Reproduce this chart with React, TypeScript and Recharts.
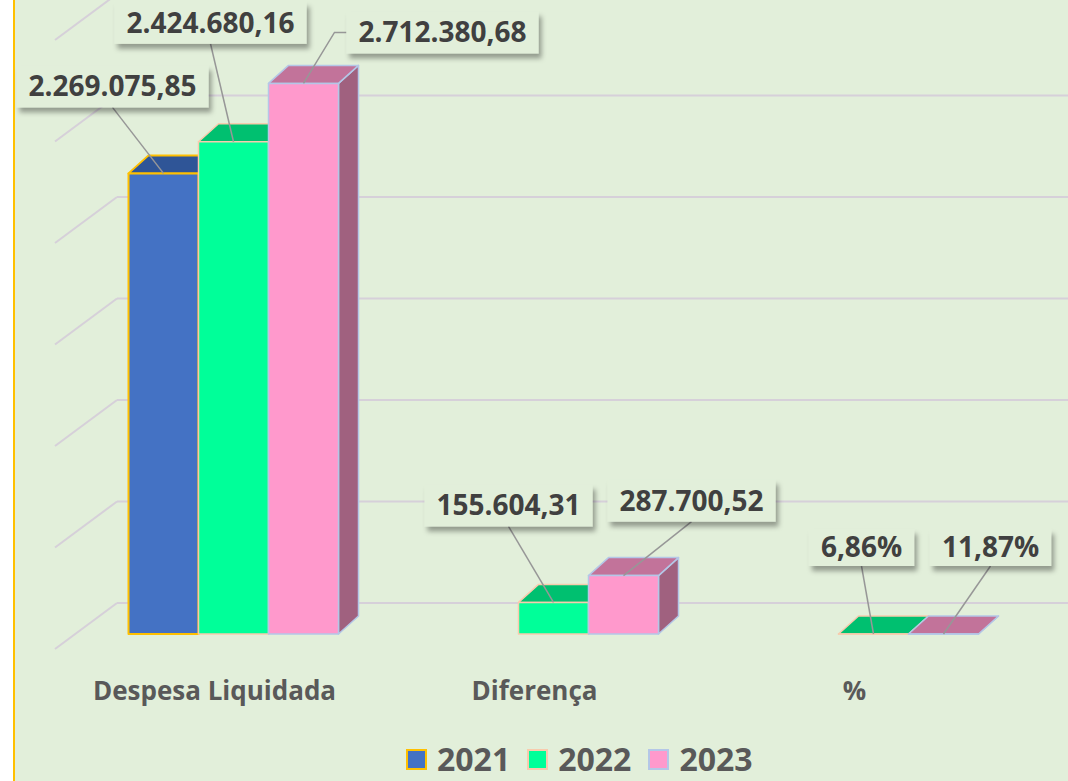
import React from 'react';
import { BarChart, Bar, XAxis, YAxis, CartesianGrid, Legend, LabelList } from 'recharts';

const categories = ['Despesa Liquidada', 'Diferença', '%'];
const years = ['2021', '2022', '2023'];
const values2021 = [2269075.85, null, null];
const values2022 = [2424680.16, 155604.31, 6.86];
const values2023 = [2712380.68, 287700.52, 11.87];
const yTicks = [0, 500000, 1000000, 1500000, 2000000, 2500000, 3000000];

const data = categories.map((name, i) => ({
  name,
  y2021: values2021[i],
  y2022: values2022[i],
  y2023: values2023[i],
}));

const W = 1068;
const H = 781;
const FONT = '"Open Sans", sans-serif';

// fake 3D: depth of each box and position of the back wall
const DEPTH_X = 20;
const DEPTH_Y = 18;
const WALL_SHIFT = 31;
const WALL_LEFT = 117;
const WALL_FRONT_X = 55;
const WALL_DROP = 46;

const series = [
  { key: 'y2021', front: '#4472C4', top: '#2F5597', side: '#2B4C85', stroke: '#FFC000', sw: 2 },
  { key: 'y2022', front: '#00FF99', top: '#00C070', side: '#00A862', stroke: '#F8CBAD', sw: 1.5 },
  { key: 'y2023', front: '#FF99CC', top: '#C2739A', side: '#A0617F', stroke: '#B4C7E7', sw: 1.5 },
];

// where each data label box sits, relative to the top-centre of its bar
const labelLayout: any[][] = [
  [{ dx: -51, dy: -66 }, null, null],
  [{ dx: -23, dy: -98 }, { dx: -45, dy: -76 }, { dx: -12, dy: -68, h: 37 }],
  [{ dx: 139, dy: -30, elbow: true }, { dx: 68, dy: -54 }, { dx: 47, dy: -68, h: 37 }],
];

const fmt = (v: number, pct: boolean) => {
  const [int, dec] = v.toFixed(2).split('.');
  return int.replace(/\B(?=(\d{3})+(?!\d))/g, '.') + ',' + dec + (pct ? '%' : '');
};

let ctx: CanvasRenderingContext2D | null = null;
const measure = (t: string, size: number) => {
  if (!ctx) ctx = document.createElement('canvas').getContext('2d');
  if (!ctx) return t.length * size * 0.55;
  ctx.font = `bold ${size}px "Open Sans"`;
  return ctx.measureText(t).width;
};

const Box3D = (props: any) => {
  const { x, y, width, height, s } = props;
  if (x == null || y == null || !isFinite(height)) return null;
  const st = series[s];
  const r = x + width;
  const b = y + height;
  return (
    <g stroke={st.stroke} strokeWidth={st.sw} strokeLinejoin="round">
      <polygon points={`${r},${y} ${r + DEPTH_X},${y - DEPTH_Y} ${r + DEPTH_X},${b - DEPTH_Y} ${r},${b}`} fill={st.side} />
      <polygon points={`${x},${y} ${x + DEPTH_X},${y - DEPTH_Y} ${r + DEPTH_X},${y - DEPTH_Y} ${r},${y}`} fill={st.top} />
      <rect x={x} y={y} width={width} height={Math.max(height, 0)} fill={st.front} />
    </g>
  );
};

const makeLabel = (s: number) => (props: any) => {
  const vb = props.viewBox ?? props;
  const { index, value } = props;
  const lay = labelLayout[s][index];
  if (value == null || !lay) return null;
  const bx = vb.x + vb.width / 2;
  const by = vb.y;
  const text = fmt(Number(value), index === 2);
  const h = lay.h ?? 42;
  const w = measure(text, 28) + 24;
  const cx = bx + lay.dx;
  const bottom = by + lay.dy;
  const topY = bottom - h;
  const left = cx - w / 2;
  const leader = lay.elbow
    ? `${left},${topY + h / 2} ${left - 12},${topY + h / 2} ${bx},${by}`
    : `${cx},${bottom} ${bx},${by}`;
  return (
    <g>
      <polyline points={leader} fill="none" stroke="#979797" strokeWidth={1.5} />
      <rect x={left} y={topY} width={w} height={h} fill="#E2EFDA" filter="url(#lblShadow)" />
      <text x={cx} y={topY + h / 2 + 10} textAnchor="middle" fontFamily={FONT} fontWeight={700} fontSize={28} fill="#404040">
        {text}
      </text>
    </g>
  );
};

const WallLine = (props: any) => {
  const y = props.y1 - WALL_SHIFT;
  return (
    <g key={props.key} stroke="#D6D0D9" strokeWidth={2}>
      <line x1={WALL_FRONT_X} y1={y + WALL_DROP} x2={WALL_LEFT} y2={y} />
      <line x1={WALL_LEFT} y1={y} x2={W} y2={y} />
    </g>
  );
};

const CatTick = (props: any) => {
  const { x, y, payload } = props;
  return (
    <text x={x - 19} y={y + 58} textAnchor="middle" fontFamily={FONT} fontWeight={700} fontSize={26} fill="#595959">
      {payload.value}
    </text>
  );
};

const LegendBox = () => (
  <div style={{ display: 'flex', alignItems: 'center', paddingLeft: 406, height: 32, fontFamily: FONT, fontWeight: 700, fontSize: 32, color: '#595959' }}>
    {series.map((s, i) => (
      <div key={s.key} style={{ display: 'flex', alignItems: 'center', marginRight: 17, height: 32 }}>
        <span style={{ display: 'inline-block', width: 17, height: 17, background: s.front, border: `2px solid ${s.stroke}`, marginRight: 10 }} />
        <span style={{ lineHeight: '32px', height: 32 }}>{years[i]}</span>
      </div>
    ))}
  </div>
);

export default function App() {
  return (
    <div style={{ position: 'relative', width: W, height: H, overflow: 'hidden', background: '#FFFFFF' }}>
      <style>{'body{margin:0}'}</style>
      <svg width={0} height={0} style={{ position: 'absolute' }}>
        <defs>
          <filter id="lblShadow" x="-10%" y="-20%" width="130%" height="170%">
            <feDropShadow dx="3" dy="5" stdDeviation="2.5" floodColor="#000" floodOpacity="0.35" />
          </filter>
        </defs>
      </svg>
      <div style={{ position: 'absolute', left: 13, top: 0, width: W - 15, height: H, background: '#E2EFDA', borderLeft: '2px solid #FFC000' }} />
      <div style={{ position: 'absolute', left: 0, top: 0 }}>
        <BarChart width={W} height={H} data={data} margin={{ top: 25, right: 34.5, left: 73.5, bottom: 55 }} barSize={70} barGap={0}>
          <CartesianGrid vertical={false} horizontal={(p: any) => <WallLine {...p} />} />
          <YAxis hide domain={[0, 3000000]} ticks={yTicks} />
          <XAxis dataKey="name" height={60} axisLine={false} tickLine={false} tick={<CatTick />} interval={0} />
          <Legend verticalAlign="bottom" content={<LegendBox />} wrapperStyle={{ left: 0, bottom: 6, width: W, height: 32 }} />
          {series.map((s, i) => (
            <Bar key={s.key} dataKey={s.key} name={years[i]} fill={s.front} isAnimationActive={false} shape={(p: any) => <Box3D {...p} s={i} />}>
              <LabelList dataKey={s.key} content={makeLabel(i)} />
            </Bar>
          ))}
        </BarChart>
      </div>
    </div>
  );
}
